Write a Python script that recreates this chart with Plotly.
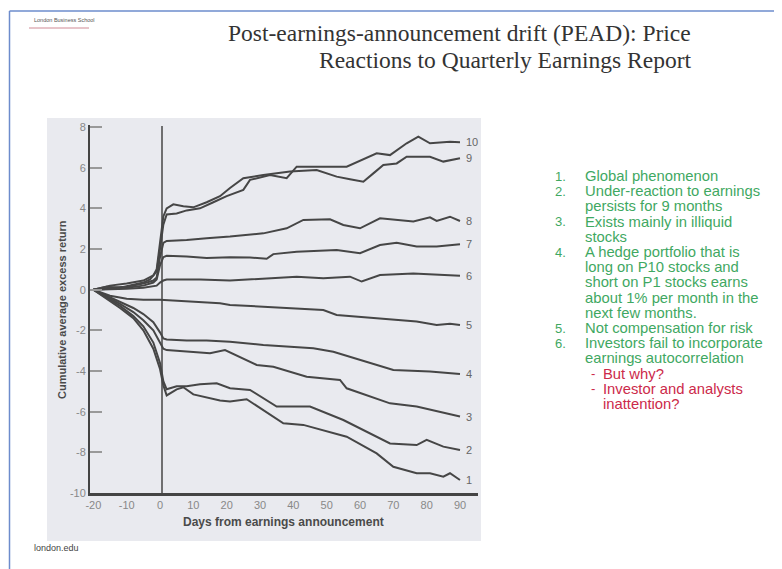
import plotly.graph_objects as go

# ---------------- data ----------------
p10_days = [-20,-16,-12,-8,-5,-3,-1,0,1,2,5,8,12,16,20,25,27,33,38,41,47,56,65,69,74,77.5,81,87,90]
p10_vals = [0,0.15,0.1,0.25,0.35,0.5,0.9,2.0,3.2,3.7,3.75,3.9,4.0,4.3,4.6,4.91,5.40,5.64,5.48,6.05,6.05,6.05,6.71,6.62,7.20,7.53,7.20,7.28,7.25]

p9_days = [-20,-15,-10,-5,-2,-1,0,1,2,4,7,10,14,18,21,25,31,39,47,53,57,61,64,67,71,74,81,85,90]
p9_vals = [0,0.2,0.3,0.45,0.7,1.0,2.3,3.6,4.0,4.2,4.1,4.05,4.3,4.6,5.0,5.48,5.64,5.81,5.89,5.56,5.43,5.31,5.72,6.13,6.21,6.54,6.54,6.30,6.46]

p8_days = [-20,-15,-10,-5,-2,-1,0,1,2,8,14,21,31,38,43,51,55,60,66,76,81,83,87,90]
p8_vals = [0,0.1,0.15,0.3,0.45,0.6,1.6,2.3,2.4,2.44,2.53,2.61,2.77,3.02,3.43,3.46,3.18,3.02,3.51,3.35,3.56,3.38,3.59,3.38]

p7_days = [-20,-15,-10,-5,-2,-1,0,1,2,8,14,21,27,32,34,41,53,60,66,71,77,83,90]
p7_vals = [0,0.05,0.1,0.2,0.35,0.5,1.2,1.6,1.67,1.63,1.56,1.6,1.58,1.52,1.75,1.87,1.95,1.79,2.2,2.31,2.12,2.12,2.23]

p6_days = [-20,-15,-10,-5,-2,-1,0,1,2,12,21,31,41,49,57,60.5,66,76,86,90]
p6_vals = [0,0.02,0.05,0.1,0.15,0.2,0.35,0.45,0.5,0.5,0.45,0.56,0.64,0.56,0.64,0.40,0.72,0.80,0.72,0.69]

p5_days = [-20,-15,-10,-5,0,8,18,21,31,49,53,71,77,83,87,90]
p5_vals = [0,-0.3,-0.45,-0.5,-0.5,-0.58,-0.67,-0.75,-0.83,-1.0,-1.24,-1.49,-1.57,-1.74,-1.68,-1.74]

p4_days = [-20,-16,-12,-8,-5,-2,0,1,2,8,14,21,31,46,52,63,70,81,90]
p4_vals = [0,-0.3,-0.6,-0.9,-1.2,-1.6,-2.1,-2.4,-2.45,-2.5,-2.5,-2.56,-2.72,-2.88,-3.05,-3.62,-3.95,-4.03,-4.15]

p3_days = [-20,-16,-12,-8,-5,-2,0,1,2,8,15,19.5,24,29,34,44,54,56,69,77,90]
p3_vals = [0,-0.35,-0.7,-1.1,-1.5,-2.0,-2.6,-2.9,-2.97,-3.05,-3.13,-2.97,-3.3,-3.7,-3.79,-4.28,-4.44,-4.85,-5.59,-5.75,-6.24]

p2_days = [-20,-16,-12,-8,-5,-2,0,1,2,5,8,12,17,21,27,35,45,55,69,77,80,85,90]
p2_vals = [0,-0.4,-0.8,-1.3,-1.8,-2.6,-3.6,-4.5,-4.9,-4.75,-4.75,-4.65,-4.6,-4.85,-4.93,-5.75,-5.75,-6.41,-7.56,-7.64,-7.39,-7.72,-7.88]

p1_days = [-20,-16,-12,-8,-5,-2,0,1,2,5,7,10,14,18,21,26,37,43,56,65,70,77,81,85,87,90]
p1_vals = [0,-0.45,-0.9,-1.4,-2.0,-2.9,-3.9,-4.7,-5.2,-4.9,-4.8,-5.15,-5.3,-5.45,-5.5,-5.39,-6.57,-6.65,-7.23,-8.05,-8.71,-9.03,-9.03,-9.2,-9.03,-9.36]

series_names = ["10", "9", "8", "7", "6", "5", "4", "3", "2", "1"]
series_days = [p10_days, p9_days, p8_days, p7_days, p6_days, p5_days, p4_days, p3_days, p2_days, p1_days]
series_vals = [p10_vals, p9_vals, p8_vals, p7_vals, p6_vals, p5_vals, p4_vals, p3_vals, p2_vals, p1_vals]

x_ticks = [-20, -10, 0, 10, 20, 30, 40, 50, 60, 70, 80, 90]
y_ticks = [-10, -8, -6, -4, -2, 0, 2, 4, 6, 8]

title_lines = ["Post-earnings-announcement drift (PEAD): Price",
               "Reactions to Quarterly Earnings Report"]

# (bullet, text, colour kind)
bullet_rows = [
    ("1.", "Global phenomenon", "g"),
    ("2.", "Under-reaction to earnings", "g"),
    ("", "persists for 9 months", "g"),
    ("3.", "Exists mainly in illiquid", "g"),
    ("", "stocks", "g"),
    ("4.", "A hedge portfolio that is", "g"),
    ("", "long on P10 stocks and", "g"),
    ("", "short on P1 stocks earns", "g"),
    ("", "about 1% per month in the", "g"),
    ("", "next few months.", "g"),
    ("5.", "Not compensation for risk", "g"),
    ("6.", "Investors fail to incorporate", "g"),
    ("", "earnings autocorrelation", "g"),
    ("-", "But why?", "r"),
    ("-", "Investor and analysts", "r"),
    ("", "inattention?", "r"),
]

# ---------------- layout helpers (screen pixel -> paper) ----------------
BODY = 8                      # default page margin of the html body
W, H = 782 - BODY, 569 - BODY
PL, PR, PT, PB = 90, 478, 125, 493   # plot area in screen pixels


def px(x):
    return (x - PL) / (PR - PL)


def py(y):
    return (PB - y) / (PB - PT)


LINE_COL = "#464646"
GREEN = "#3fa862"
RED = "#cc2a4a"
FONT = "Liberation Sans, Arial"

fig = go.Figure()
for name, d, v in zip(series_names, series_days, series_vals):
    fig.add_trace(go.Scatter(x=d, y=v, mode="lines", name=name,
                             line=dict(color=LINE_COL, width=2),
                             showlegend=False, hoverinfo="skip"))

annotations = []
for name, d, v in zip(series_names, series_days, series_vals):
    annotations.append(dict(x=d[-1] + 1.3, y=v[-1], xref="x", yref="y", text=name,
                            showarrow=False, xanchor="left", yanchor="middle",
                            font=dict(family=FONT, size=11, color="#666")))

annotations.append(dict(x=px(62), y=py(310), xref="paper", yref="paper",
                        text="<b>Cumulative average excess return</b>", textangle=-90,
                        showarrow=False, xanchor="center", yanchor="middle",
                        font=dict(family=FONT, size=11, color="#4a4a4a")))
annotations.append(dict(x=px(283), y=py(522), xref="paper", yref="paper",
                        text="<b>Days from earnings announcement</b>",
                        showarrow=False, xanchor="center", yanchor="middle",
                        font=dict(family=FONT, size=12, color="#4a4a4a")))

for i, t in enumerate(title_lines):
    annotations.append(dict(x=px(693), y=py(33 + 27 * i), xref="paper", yref="paper", text=t,
                            showarrow=False, xanchor="right", yanchor="middle",
                            font=dict(family="Liberation Serif, Times New Roman", size=23.5, color="#333")))

annotations.append(dict(x=px(32), y=py(20), xref="paper", yref="paper", text="London Business School",
                        showarrow=False, xanchor="left", yanchor="middle",
                        font=dict(family=FONT, size=5.5, color="#555")))
annotations.append(dict(x=px(32), y=py(548), xref="paper", yref="paper", text="london.edu",
                        showarrow=False, xanchor="left", yanchor="middle",
                        font=dict(family=FONT, size=9, color="#444")))

y0 = 176
for i, (b, t, c) in enumerate(bullet_rows):
    yy = y0 + 15.2 * i
    col = GREEN if c == "g" else RED
    bx, tx = (553, 583) if c == "g" else (589, 601)
    if b:
        annotations.append(dict(x=px(bx), y=py(yy), xref="paper", yref="paper", text=b,
                                showarrow=False, xanchor="left", yanchor="middle",
                                font=dict(family=FONT, size=13, color=col)))
    annotations.append(dict(x=px(tx), y=py(yy), xref="paper", yref="paper", text=t,
                            showarrow=False, xanchor="left", yanchor="middle",
                            font=dict(family=FONT, size=14.8, color=col)))

shapes = [
    dict(type="rect", xref="paper", yref="paper", x0=px(47), x1=px(481), y0=py(541), y1=py(118),
         fillcolor="#e9eaef", line=dict(width=0), layer="below"),
    dict(type="line", xref="x", yref="paper", x0=0.6, x1=0.6, y0=0, y1=py(126),
         line=dict(color=LINE_COL, width=1.5)),
    dict(type="line", xref="paper", yref="paper", x0=px(29), x1=px(89), y0=py(28), y1=py(28),
         line=dict(color="#d08a95", width=1)),
    dict(type="line", xref="paper", yref="paper", x0=px(9.5), x1=px(9.5), y0=py(11), y1=py(569),
         line=dict(color="#6d8ccc", width=1.5)),
    dict(type="line", xref="paper", yref="paper", x0=px(9.5), x1=px(781), y0=py(11), y1=py(11),
         line=dict(color="#6d8ccc", width=1.5)),
]

fig.update_layout(
    width=W, height=H, autosize=False,
    margin=dict(l=PL - BODY, r=782 - PR, t=PT - BODY, b=569 - PB, pad=0),
    paper_bgcolor="white", plot_bgcolor="rgba(0,0,0,0)",
    annotations=annotations, shapes=shapes,
    xaxis=dict(range=[-21, 95.4], tickvals=x_ticks, ticktext=[str(v) for v in x_ticks],
               showgrid=False, zeroline=False, ticks="", showline=True,
               linecolor="#444", linewidth=2.5,
               tickfont=dict(family=FONT, size=11, color="#888")),
    yaxis=dict(range=[-10, 8.1], tickvals=y_ticks, ticktext=[str(v) for v in y_ticks],
               showgrid=False, zeroline=False, ticks="inside", ticklen=12, tickwidth=1.5,
               tickcolor="#999", showline=True, linecolor="#444", linewidth=2,
               tickfont=dict(family=FONT, size=11, color="#888")),
)

fig.write_html("out.html")
